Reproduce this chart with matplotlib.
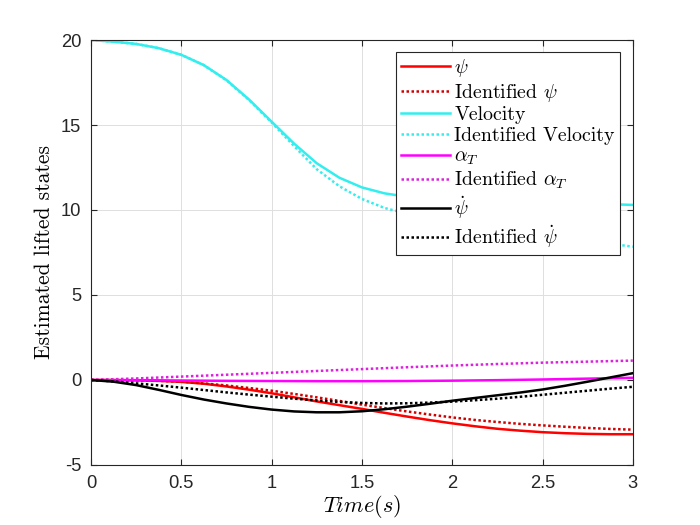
import numpy as np
import matplotlib
matplotlib.use('Agg')
import matplotlib.pyplot as plt

plt.rcParams['mathtext.fontset'] = 'cm'
plt.rcParams['axes.unicode_minus'] = False
plt.rcParams['font.family'] = ['Liberation Sans', 'DejaVu Sans']

# sample times, every 0.125 s
t = np.arange(0, 3.0001, 0.125)

velocity = [20.0, 19.9, 19.77, 19.52, 19.13, 18.52, 17.65, 16.5, 15.2, 13.9,
            12.75, 11.9, 11.33, 10.98, 10.78, 10.66, 10.58, 10.53, 10.5,
            10.47, 10.45, 10.42, 10.38, 10.34, 10.3]
velocity_id = [20.0, 19.9, 19.77, 19.52, 19.13, 18.52, 17.63, 16.47, 15.15, 13.75,
               12.4, 11.4, 10.65, 10.12, 9.78, 9.52, 9.3, 9.12, 8.95,
               8.78, 8.6, 8.4, 8.2, 8.02, 7.84]

psi = [0, -0.005, -0.02, -0.05, -0.11, -0.22, -0.38, -0.57, -0.78, -1.02, -1.26, -1.48,
       -1.7, -1.93, -2.15, -2.36, -2.55, -2.72, -2.87, -2.98, -3.07, -3.13, -3.17, -3.19, -3.19]
psi_id = [0, -0.005, -0.02, -0.05, -0.1, -0.2, -0.32, -0.47, -0.63, -0.82, -1.02, -1.23,
          -1.45, -1.65, -1.85, -2.03, -2.2, -2.35, -2.47, -2.58, -2.67, -2.75, -2.82, -2.88, -2.92]
alpha_t = [0, -0.005, -0.01, -0.02, -0.03, -0.04, -0.05, -0.055, -0.06, -0.065, -0.07, -0.07,
           -0.07, -0.065, -0.06, -0.05, -0.04, -0.025, -0.01, 0.01, 0.03, 0.055, 0.08, 0.105, 0.13]
alpha_t_id = [0, 0.045, 0.09, 0.145, 0.2, 0.255, 0.31, 0.365, 0.42, 0.475, 0.53, 0.585,
              0.64, 0.695, 0.75, 0.8, 0.85, 0.895, 0.94, 0.98, 1.02, 1.05, 1.08, 1.11, 1.14]
psi_dot = [0, -0.1, -0.3, -0.58, -0.88, -1.15, -1.38, -1.58, -1.74, -1.85, -1.9, -1.9,
           -1.84, -1.72, -1.57, -1.4, -1.22, -1.06, -0.9, -0.74, -0.56, -0.34, -0.1, 0.15, 0.4]
psi_dot_id = [0, -0.08, -0.2, -0.32, -0.45, -0.59, -0.73, -0.86, -0.98, -1.1, -1.2, -1.29,
              -1.35, -1.38, -1.37, -1.33, -1.27, -1.19, -1.1, -0.99, -0.87, -0.75, -0.63, -0.51, -0.4]

fig = plt.figure(figsize=(7, 5.25), dpi=100)
ax = fig.add_axes([0.13, 0.1143, 0.774, 0.8095])

lw = 1.8
dot = (0, (1, 1))
ax.plot(t, psi, color='red', lw=lw, label=r'$\psi$')
ax.plot(t, psi_id, color='#d00000', lw=lw, ls=dot, label=r'Identified $\psi$')
ax.plot(t, velocity, color='#33eeee', lw=lw, label='Velocity')
ax.plot(t, velocity_id, color='#33eeee', lw=lw, ls=dot, label='Identified Velocity')
ax.plot(t, alpha_t, color='magenta', lw=lw, label=r'$\alpha_T$')
ax.plot(t, alpha_t_id, color='#dd22dd', lw=lw, ls=dot, label=r'Identified $\alpha_T$')
ax.plot(t, psi_dot, color='black', lw=lw, label=r'$\dot{\psi}$')
ax.plot(t, psi_dot_id, color='black', lw=lw, ls=dot, label=r'Identified $\dot{\psi}$')

ax.set_xlim(0, 3)
ax.set_ylim(-5, 20)
ax.set_xticks([0, 0.5, 1, 1.5, 2, 2.5, 3])
ax.set_xticklabels(['0', '0.5', '1', '1.5', '2', '2.5', '3'])
ax.set_yticks([-5, 0, 5, 10, 15, 20])
ax.grid(True, color='#dedede', lw=0.7)
ax.set_axisbelow(True)
ax.tick_params(direction='in', length=4, width=0.8, labelsize=13.2, colors='#262626',
               top=True, right=True, pad=7)
for s in ax.spines.values():
    s.set_color('#262626')
    s.set_linewidth(0.8)

ax.set_xlabel(r'$Time(s)$', fontsize=16, labelpad=1)
ax.set_ylabel('Estimated lifted states', fontsize=15.5, family='cmr10', labelpad=5)

leg = ax.legend(loc='upper right', bbox_to_anchor=(0.976, 0.972), borderaxespad=0,
                prop={'family': 'cmr10', 'size': 14.3}, fancybox=False, framealpha=1,
                edgecolor='#262626', handlelength=2.5, handletextpad=0.2,
                labelspacing=0.14, borderpad=0.25)
leg.get_frame().set_linewidth(0.8)

fig.savefig('out.png', dpi=100)
